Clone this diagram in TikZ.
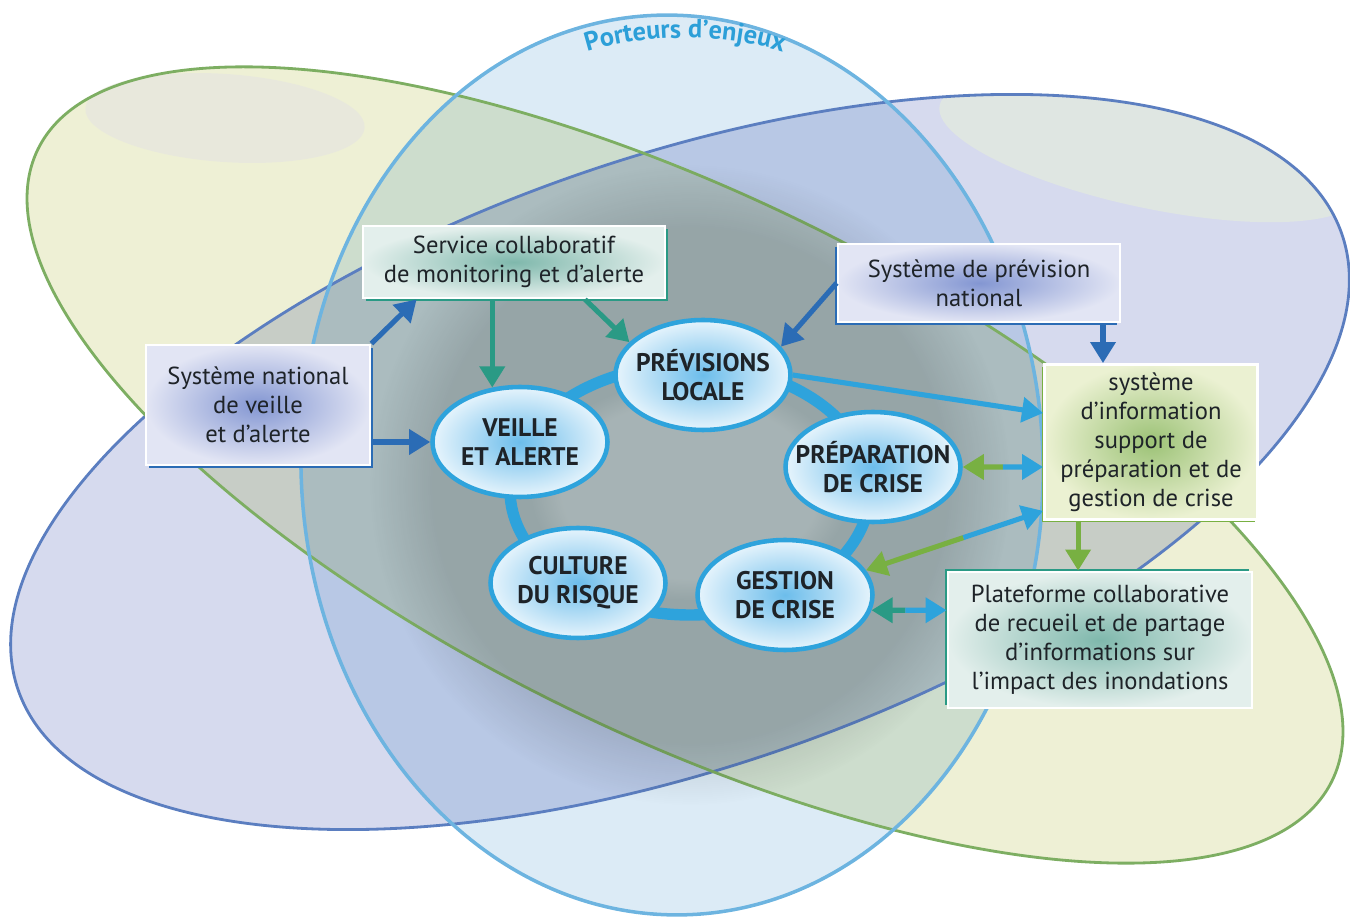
\documentclass[tikz,border=0pt]{standalone}
\usepackage{fontspec}
\setmainfont{PT Sans}
\usepackage{tikz}
\usetikzlibrary{shapes,arrows.meta,positioning,calc,shadows,fadings,decorations.text}

\definecolor{grnfill}{HTML}{EEF0D5}
\definecolor{grnline}{HTML}{7DAE62}
\definecolor{lavfill}{HTML}{D6DAEE}
\definecolor{lavline}{HTML}{5B7EC0}
\definecolor{skyfill}{HTML}{DCEBF6}
\definecolor{skyline}{HTML}{6DB4E0}
\definecolor{cycblue}{HTML}{2EA3DC}
\definecolor{darkblue}{HTML}{2B6CB5}
\definecolor{arrteal}{HTML}{2A9A85}
\definecolor{arrgreen}{HTML}{78B042}
\definecolor{porteur}{HTML}{2C9FD8}
\definecolor{textdark}{HTML}{1E2328}
\definecolor{nodein}{HTML}{6CBDEB}
\definecolor{nodeout}{HTML}{E6F4FC}
\definecolor{tealin}{HTML}{7FB8AC}
\definecolor{tealout}{HTML}{E3EFEC}
\definecolor{bluein}{HTML}{8396D2}
\definecolor{blueout}{HTML}{E2E5F4}
\definecolor{greenin}{HTML}{9CC276}
\definecolor{greenout}{HTML}{EBF1D2}

\begin{document}
\begin{tikzpicture}[x=0.02cm, y=-0.02cm, >={Triangle[length=12pt,width=14pt]}]
\tikzstyle{cyc}=[ellipse, draw=cycblue, line width=2.6pt, inner color=nodein, outer color=nodeout, minimum width=3.5cm, minimum height=2.2cm, align=center, inner xsep=-0.35cm, inner ysep=0pt, font=\bfseries\fontsize{14.5}{16.5}\selectfont, text=textdark]
\tikzstyle{box}=[rectangle, draw=white, line width=1.6pt, align=center, inner sep=0pt, font=\fontsize{14}{16.5}\selectfont, text=textdark]
\tikzstyle{arr}=[->, line width=2.9pt]

\useasboundingbox (0,0) rectangle (1350,918);

% the three fields
\begin{scope}[blend mode=multiply]
\fill[lavfill, rotate around={19:(680,462)}] (680,462) ellipse [x radius=700, y radius=305];
\fill[grnfill, rotate around={-26:(685,465)}] (685,465) ellipse [x radius=720, y radius=270];
\fill[skyfill, rotate around={2:(672,465)}] (672,465) ellipse [x radius=371, y radius=450];
\end{scope}
\fill[fill={rgb,255:red,230;green,230;blue,224}, opacity=.7, rotate around={-4:(225,118)}] (225,118) ellipse [x radius=140, y radius=44];
\begin{scope}
\clip[rotate around={19:(680,462)}] (680,462) ellipse [x radius=700, y radius=305];
\fill[fill={rgb,255:red,226;green,233;blue,224}, opacity=.8, rotate around={-12:(1150,150)}] (1150,150) ellipse [x radius=215, y radius=58];
\end{scope}
\draw[lavline, line width=1.6pt, rotate around={19:(680,462)}] (680,462) ellipse [x radius=700, y radius=305];
\draw[grnline, line width=1.6pt, rotate around={-26:(685,465)}] (685,465) ellipse [x radius=720, y radius=270];
\draw[skyline, line width=2pt, rotate around={2:(672,465)}] (672,465) ellipse [x radius=371, y radius=450];

\path[decorate, decoration={text along path, text align=center, text color=porteur,
  text={|\bfseries\fontsize{15}{15}\selectfont|Porteurs d’enjeux}}]
  (575,56) .. controls (640,32) and (730,32) .. (795,56);

% shadow of the cycle
\fill[black, opacity=.12, path fading=circle with fuzzy edge 20 percent] (690,485) circle [radius=320];
\fill[white, opacity=.16, path fading=circle with fuzzy edge 20 percent] (690,490) ellipse [x radius=160, y radius=110];

\draw[cycblue, line width=6.5pt] (690,490) ellipse [x radius=180, y radius=125];

\node[cyc] (prev)   at (703,375) {PRÉVISIONS\\LOCALE};
\node[cyc] (veille) at (520,442) {VEILLE\\ET ALERTE};
\node[cyc] (prep)   at (873,467) {PRÉPARATION\\DE CRISE};
\node[cyc] (cult)   at (578,583) {CULTURE\\DU RISQUE};
\node[cyc] (gest)   at (785,595) {GESTION\\DE CRISE};

\node[box, minimum width=6.04cm, minimum height=1.44cm, inner color=tealin, outer color=tealout,
  drop shadow={shadow xshift=1.5pt, shadow yshift=-1.5pt, fill=arrteal, opacity=1}]
  (serv) at (514,262) {Service collaboratif\\de monitoring et d’alerte};
\node[box, minimum width=4.48cm, minimum height=2.4cm, inner color=bluein, outer color=blueout,
  drop shadow={shadow xshift=1.5pt, shadow yshift=-1.5pt, fill=darkblue, opacity=1}]
  (natl) at (258,405) {Système national\\de veille\\et d’alerte};
\node[box, minimum width=5.64cm, minimum height=1.56cm, inner color=bluein, outer color=blueout,
  drop shadow={shadow xshift=-1.5pt, shadow yshift=-1.5pt, fill=darkblue, opacity=1}]
  (sysprev) at (979,283) {Système de prévision\\national};
\node[box, minimum width=4.26cm, minimum height=3.1cm, inner color=greenin, outer color=greenout,
  drop shadow={shadow xshift=-1.5pt, shadow yshift=-1.5pt, fill=arrgreen, opacity=1}]
  (info) at (1151,442) {système\\d’information\\support de\\préparation et de\\gestion de crise};
\node[box, minimum width=6.08cm, minimum height=2.72cm, inner color=tealin, outer color=tealout,
  drop shadow={shadow xshift=-1.5pt, shadow yshift=1.5pt, fill=arrteal, opacity=1}]
  (plat) at (1100,640) {Plateforme collaborative\\de recueil et de partage\\d’informations sur\\l’impact des inondations};

\draw[arr, darkblue] (natl.north east) -- ($(serv.south west)+(55,0)$);
\draw[arr, darkblue] (natl.east |- veille.west) -- (veille.west);
\draw[arr, arrteal] (serv.south -| veille.117) -- (veille.117);
\draw[arr, arrteal] ($(serv.south)+(71,0)$) -- (prev.156);
\draw[arr, darkblue] (sysprev.west) -- (prev.20);
\coordinate (c1) at ($(info.north)+(-48,0)$);
\draw[arr, darkblue] (sysprev.south -| c1) -- (c1);
\draw[arr, cycblue] (prev.east) -- ($(info.west)+(0,-29)$);
\coordinate (m1) at ($(prep.east)!.5!(info.west |- prep.east)$);
\draw[arr, arrgreen] (m1) -- (prep.east);
\draw[arr, cycblue] (m1) -- (info.west |- prep.east);
\coordinate (c2) at ($(info.south west)+(0,-10)$);
\coordinate (m2) at ($(gest.17)!.55!(c2)$);
\draw[arr, arrgreen] (m2) -- (gest.17);
\draw[arr, cycblue] (m2) -- (c2);
\coordinate (c3) at ($(info.south west)+(35,0)$);
\draw[arr, arrgreen] (c3) -- (plat.north -| c3);
\coordinate (m3) at ($(gest.350)!.45!(plat.west |- gest.350)$);
\draw[arr, arrteal] (m3) -- (gest.350);
\draw[arr, cycblue] (m3) -- (plat.west |- gest.350);

\end{tikzpicture}
\end{document}
